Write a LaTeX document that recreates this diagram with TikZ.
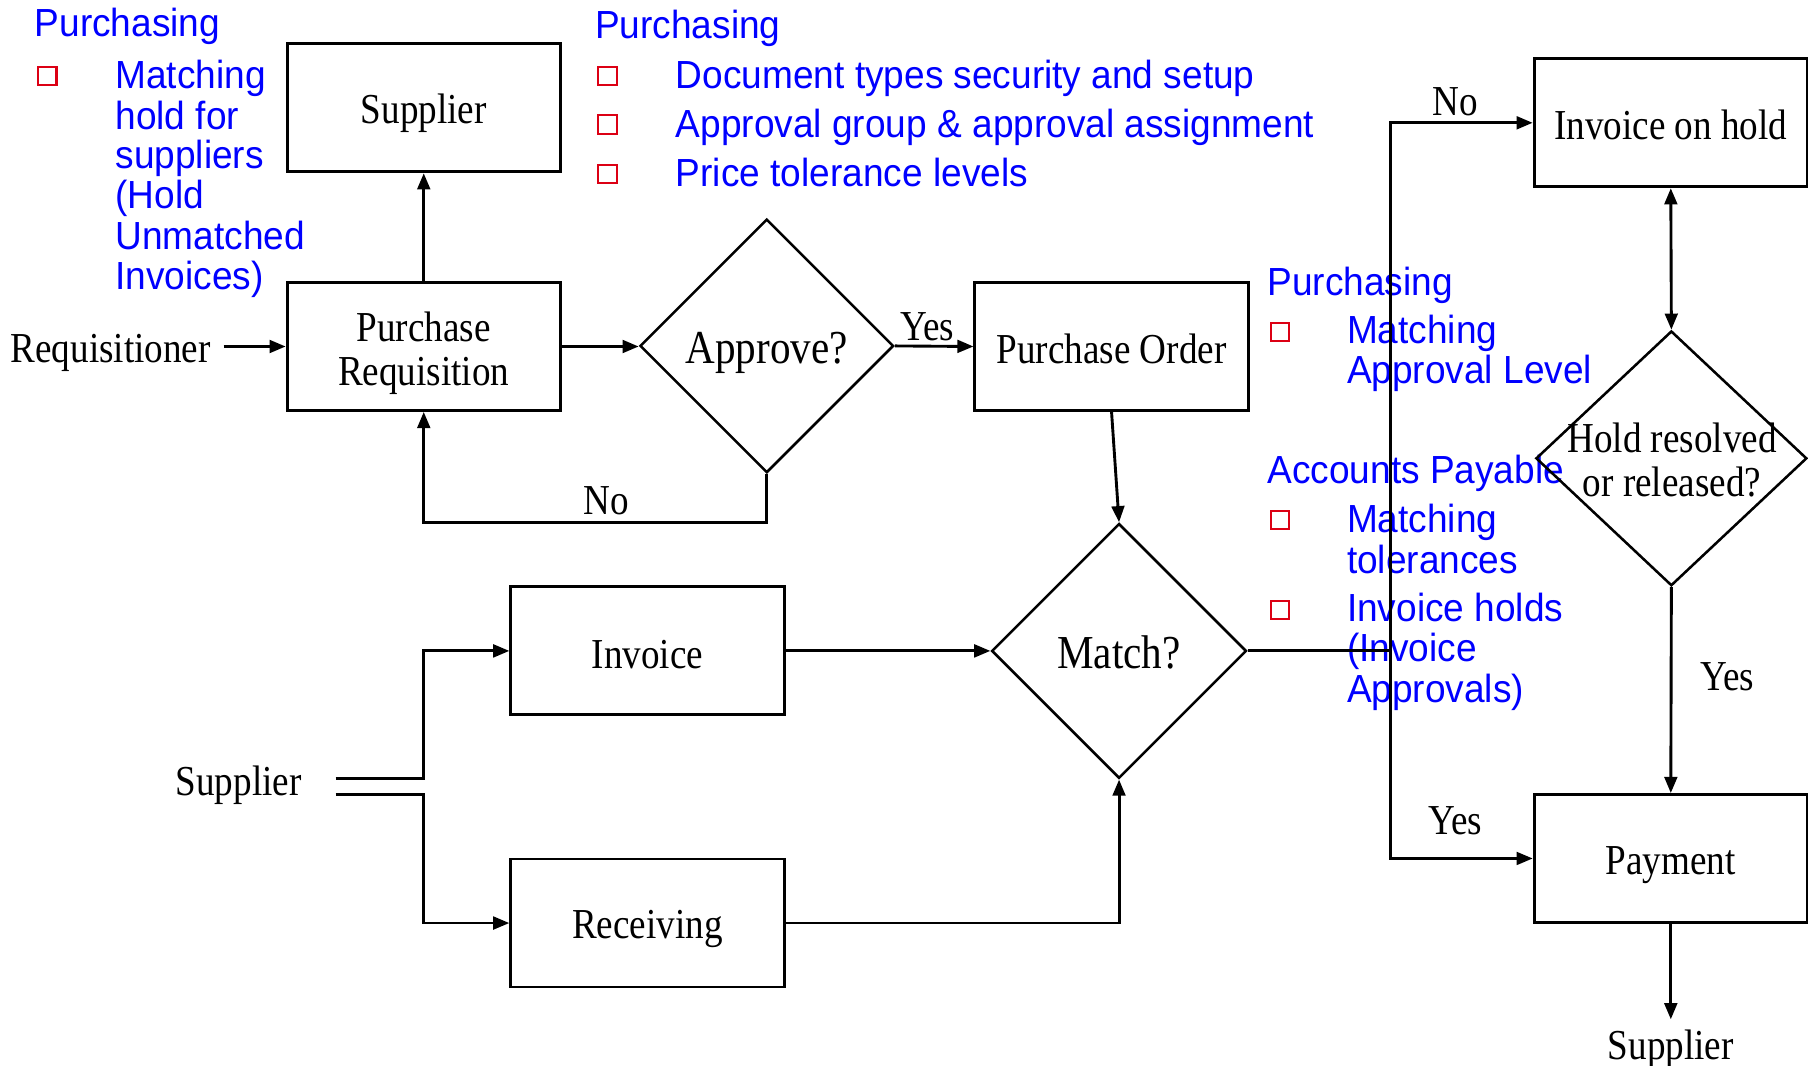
\documentclass[tikz,border=0pt]{standalone}
\usepackage{fontspec}
\usetikzlibrary{arrows.meta,shapes.geometric}
\newfontfamily\serifb[FakeStretch=0.87]{Liberation Serif}
\newfontfamily\sansb[FakeStretch=0.945]{Liberation Sans}
\definecolor{bblue}{RGB}{0,0,255}
\definecolor{bred}{RGB}{220,0,20}
\begin{document}
\begin{tikzpicture}[x=1pt,y=-1pt,
  box/.style={draw,line width=2.5pt,minimum width=237pt,minimum height=111pt,inner sep=0pt},
  dia/.style={draw,diamond,line width=2.2pt,minimum width=220pt,minimum height=220pt,inner sep=0pt},
  lbl/.style={inner sep=0pt,font=\serifb\fontsize{37}{38}\selectfont,align=center},
  big/.style={inner sep=0pt,font=\serifb\fontsize{41}{42}\selectfont},
  bt/.style={inner sep=0pt,anchor=base west,text=bblue,font=\sansb\fontsize{34}{35}\selectfont},
  sq/.style={draw=bred,line width=1.8pt,minimum size=16pt,inner sep=0pt},
  arr/.style={line width=2.5pt,-{Triangle[length=14pt,width=11pt]}},
  darr/.style={line width=2.5pt,{Triangle[length=14pt,width=11pt]}-{Triangle[length=14pt,width=11pt]}},
  ln/.style={line width=2.5pt}
]
\useasboundingbox (0,0) rectangle (1568,924);

% blue annotation blocks
\node[bt] (b1h) at (30,32) {Purchasing};
\node[sq] (b1q) at (41,66) {};
\node[bt] (b1a) at (100,77) {Matching};
\node[bt] (b1b) at (100,112) {hold for};
\node[bt] (b1c) at (100,146) {suppliers};
\node[bt] (b1d) at (100,181) {(Hold};
\node[bt] (b1e) at (100,216) {Unmatched};
\node[bt] (b1f) at (100,251) {Invoices)};

\node[bt] (b2h) at (516,33) {Purchasing};
\node[sq] (b2q1) at (527,66) {};
\node[sq] (b2q2) at (527,108) {};
\node[sq] (b2q3) at (527,151) {};
\node[bt] (b2a) at (586,77) {Document types security and setup};
\node[bt] (b2b) at (586,119) {Approval group \& approval assignment};
\node[bt] (b2c) at (586,162) {Price tolerance levels};

\node[bt] (b3h) at (1099,256) {Purchasing};
\node[sq] (b3q1) at (1110,288) {};
\node[bt] (b3a) at (1168,298) {Matching};
\node[bt] (b3b) at (1168,333) {Approval Level};
\node[bt] (b4h) at (1099,419) {Accounts Payable};
\node[sq] (b4q1) at (1110,451) {};
\node[bt] (b4a) at (1168,462) {Matching};
\node[bt] (b4b) at (1168,497) {tolerances};
\node[sq] (b4q2) at (1110,529) {};
\node[bt] (b4c) at (1168,539) {Invoice holds};
\node[bt] (b4d) at (1168,574) {(Invoice};
\node[bt] (b4e) at (1168,609) {Approvals)};

% process nodes
\node[box,label={[lbl,yshift=-5pt]center:Supplier}] (sup) at (367.5,93.5) {};
\node[box,label={[lbl,yshift=-5.5pt]center:{Purchase\\Requisition}}] (pr) at (367.5,300.5) {};
\node[dia] (app) at (665,300) {};
\node[big] (appt) at (665,306) {Approve?};
\node[box,label={[lbl,yshift=-2pt]center:Purchase Order}] (po) at (964,300.5) {};
\node[dia,minimum width=221pt,minimum height=221pt] (mat) at (970.5,564.5) {};
\node[big] (matt) at (970.5,566) {Match?};
\node[box,label={[lbl,yshift=-3pt]center:Invoice}] (inv) at (561.5,564.5) {};
\node[box,label={[lbl,yshift=-5pt]center:Receiving}] (rec) at (561.5,800.5) {};
\node[box,label={[lbl,yshift=-2pt]center:Invoice on hold}] (hold) at (1449,106.5) {};
\node[dia,minimum width=235pt,minimum height=221pt] (res) at (1449.5,397.5) {};
\node[lbl] (rest) at (1450,399) {Hold resolved\\or released?};
\node[box,label={[lbl,yshift=-6pt]center:Payment}] (pay) at (1449,744.5) {};

% free text labels
\node[lbl] (req) at (96,306) {Requisitioner};
\node[lbl] (sup2) at (207,681) {Supplier};
\node[lbl] (sup3) at (1449,910) {Supplier};
\node[lbl] (yes1) at (804,283) {Yes};
\node[lbl] (no1) at (526,434) {No};
\node[lbl] (no2) at (1262,88) {No};
\node[lbl] (yes2) at (1262,712) {Yes};
\node[lbl] (yes3) at (1498,587) {Yes};

% connectors
\coordinate (rqs) at (194,300.5);
\draw[arr] (rqs) -- (pr.west);
\draw[arr] (pr.north) -- (sup.south);
\draw[arr] (pr.east) -- (pr.east -| app.west);
\draw[arr] (app.east) -- (po.west);
\coordinate (nob) at (665,453);
\draw[arr] (app.south) -- (nob) -| (pr.south);
\draw[arr] (po.south) -- (mat.north);
\draw[arr] (inv.east) -- (mat.west);
\draw[arr] (rec.east) -| (mat.south);
\coordinate (s1) at (291,675);
\coordinate (s2) at (291,689);
\coordinate (s1b) at (367,675);
\coordinate (s2b) at (367,689);
\draw[arr] (s1) -- (s1b) |- (inv.west);
\draw[arr] (s2) -- (s2b) |- (rec.west);
\coordinate (jn) at (1206,564.5);
\draw[ln] (mat.east) -- (jn);
\draw[arr] (jn) |- (hold.west);
\draw[arr] (jn) |- (pay.west);
\draw[darr] (hold.south) -- (res.north);
\draw[arr] (res.south) -- (pay.north);
\coordinate (pe) at (1449,884);
\draw[arr] (pay.south) -- (pe);
\end{tikzpicture}
\end{document}
